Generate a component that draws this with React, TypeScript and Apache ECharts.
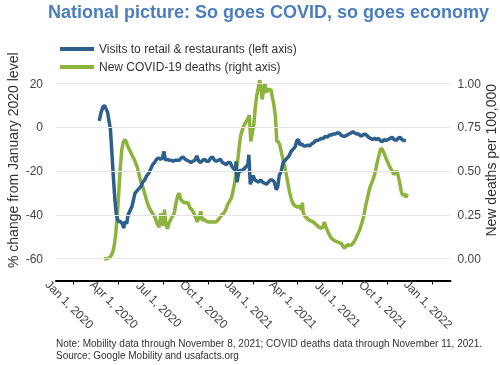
import React, { useEffect, useRef } from 'react';
import * as echarts from 'echarts';

const TITLE = 'National picture: So goes COVID, so goes economy';
const VISITS_NAME = 'Visits to retail & restaurants (left axis)';
const DEATHS_NAME = 'New COVID-19 deaths (right axis)';
const LEFT_AXIS_NAME = '% change from January 2020 level';
const RIGHT_AXIS_NAME = 'New deaths per 100,000';
const NOTE = 'Note: Mobility data through November 8, 2021; COVID deaths data through November 11, 2021.\nSource: Google Mobility and usafacts.org';
const MONTHS = ['Jan', 'Feb', 'Mar', 'Apr', 'May', 'Jun', 'Jul', 'Aug', 'Sep', 'Oct', 'Nov', 'Dec'];

// Visits to retail & restaurants, % change from January 2020 level (left axis)
const visitsData: [string, number][] = [
  ['2020-02-22', 3], ['2020-02-26', 7], ['2020-03-01', 9.5], ['2020-03-04', 10], ['2020-03-07', 8.5],
  ['2020-03-10', 7], ['2020-03-13', 3], ['2020-03-16', -1], ['2020-03-19', -12], ['2020-03-22', -23],
  ['2020-03-25', -33], ['2020-03-28', -40], ['2020-04-01', -43], ['2020-04-05', -43], ['2020-04-09', -44],
  ['2020-04-12', -46], ['2020-04-15', -43], ['2020-04-18', -44], ['2020-04-21', -40], ['2020-04-25', -38],
  ['2020-04-29', -36], ['2020-05-02', -33], ['2020-05-05', -30], ['2020-05-09', -29], ['2020-05-13', -28],
  ['2020-05-17', -27], ['2020-05-21', -25], ['2020-05-25', -24], ['2020-05-29', -22], ['2020-06-02', -21],
  ['2020-06-06', -19], ['2020-06-10', -17], ['2020-06-14', -16], ['2020-06-18', -14.5], ['2020-06-22', -14],
  ['2020-06-26', -14.5], ['2020-06-30', -14], ['2020-07-03', -11], ['2020-07-06', -15], ['2020-07-10', -14.5],
  ['2020-07-14', -15], ['2020-07-18', -15], ['2020-07-22', -15.5], ['2020-07-26', -15], ['2020-07-30', -15],
  ['2020-08-03', -15], ['2020-08-07', -14], ['2020-08-11', -13.5], ['2020-08-15', -14.5], ['2020-08-19', -15],
  ['2020-08-23', -15.5], ['2020-08-27', -16], ['2020-08-31', -15.5], ['2020-09-04', -15], ['2020-09-08', -13],
  ['2020-09-12', -15.5], ['2020-09-16', -16], ['2020-09-20', -15], ['2020-09-24', -14.5], ['2020-09-28', -15.5],
  ['2020-10-02', -15.5], ['2020-10-06', -14], ['2020-10-10', -13.5], ['2020-10-14', -15], ['2020-10-18', -15.5],
  ['2020-10-22', -15], ['2020-10-26', -14.5], ['2020-10-30', -16], ['2020-11-03', -16.5], ['2020-11-07', -17],
  ['2020-11-11', -16], ['2020-11-15', -16], ['2020-11-19', -18], ['2020-11-23', -19], ['2020-11-26', -20],
  ['2020-11-27', -15.5], ['2020-11-29', -25], ['2020-12-02', -21], ['2020-12-05', -19.5], ['2020-12-09', -20],
  ['2020-12-13', -19], ['2020-12-17', -18], ['2020-12-21', -17], ['2020-12-23', -12.5], ['2020-12-26', -26],
  ['2020-12-29', -24], ['2021-01-01', -22], ['2021-01-04', -24], ['2021-01-08', -24.5], ['2021-01-12', -25],
  ['2021-01-16', -24], ['2021-01-20', -25], ['2021-01-24', -25.5], ['2021-01-28', -26], ['2021-02-01', -25],
  ['2021-02-05', -24], ['2021-02-09', -24], ['2021-02-13', -25], ['2021-02-17', -28.5], ['2021-02-20', -27],
  ['2021-02-23', -22], ['2021-02-27', -20], ['2021-03-03', -16], ['2021-03-07', -15], ['2021-03-11', -14],
  ['2021-03-15', -13], ['2021-03-19', -11], ['2021-03-23', -10], ['2021-03-27', -9], ['2021-03-31', -6],
  ['2021-04-03', -5.5], ['2021-04-06', -8], ['2021-04-10', -7.5], ['2021-04-14', -8.5], ['2021-04-18', -8.5],
  ['2021-04-22', -8], ['2021-04-26', -8.5], ['2021-04-30', -7.5], ['2021-05-04', -7], ['2021-05-08', -6],
  ['2021-05-12', -6], ['2021-05-16', -5.5], ['2021-05-20', -5], ['2021-05-24', -5], ['2021-05-28', -4],
  ['2021-06-01', -4.5], ['2021-06-05', -3.5], ['2021-06-09', -3.5], ['2021-06-13', -3], ['2021-06-17', -3],
  ['2021-06-21', -2.5], ['2021-06-25', -2.5], ['2021-06-29', -3.5], ['2021-07-03', -4], ['2021-07-07', -4],
  ['2021-07-11', -3.5], ['2021-07-15', -3], ['2021-07-19', -2.5], ['2021-07-23', -2], ['2021-07-27', -2.5],
  ['2021-07-31', -3], ['2021-08-04', -3], ['2021-08-08', -4], ['2021-08-12', -3.5], ['2021-08-16', -3],
  ['2021-08-20', -3.5], ['2021-08-24', -4.5], ['2021-08-28', -5], ['2021-09-01', -5.5], ['2021-09-05', -5],
  ['2021-09-09', -5.5], ['2021-09-13', -5], ['2021-09-17', -6], ['2021-09-21', -6.5], ['2021-09-25', -5.5],
  ['2021-09-29', -6], ['2021-10-03', -5.5], ['2021-10-07', -5], ['2021-10-11', -4.5], ['2021-10-15', -5.5],
  ['2021-10-19', -6], ['2021-10-23', -5], ['2021-10-27', -4.5], ['2021-10-31', -5.5], ['2021-11-04', -6],
  ['2021-11-08', -6],
];

// New COVID-19 deaths per 100,000 (right axis)
const deathsData: [string, number][] = [
  ['2020-03-03', 0], ['2020-03-10', 0], ['2020-03-14', 0.005], ['2020-03-18', 0.02], ['2020-03-21', 0.04],
  ['2020-03-24', 0.08], ['2020-03-27', 0.15], ['2020-03-30', 0.25], ['2020-04-02', 0.38], ['2020-04-05', 0.52],
  ['2020-04-08', 0.62], ['2020-04-11', 0.665], ['2020-04-14', 0.68], ['2020-04-17', 0.67], ['2020-04-20', 0.645],
  ['2020-04-23', 0.625], ['2020-04-26', 0.61], ['2020-04-29', 0.59], ['2020-05-02', 0.575], ['2020-05-06', 0.55],
  ['2020-05-10', 0.52], ['2020-05-14', 0.47], ['2020-05-18', 0.43], ['2020-05-22', 0.4], ['2020-05-26', 0.36],
  ['2020-05-30', 0.32], ['2020-06-03', 0.29], ['2020-06-07', 0.27], ['2020-06-11', 0.255], ['2020-06-15', 0.235],
  ['2020-06-19', 0.2], ['2020-06-23', 0.18], ['2020-06-27', 0.26], ['2020-06-29', 0.2], ['2020-07-02', 0.19],
  ['2020-07-04', 0.28], ['2020-07-07', 0.2], ['2020-07-10', 0.17], ['2020-07-13', 0.2], ['2020-07-16', 0.22],
  ['2020-07-20', 0.24], ['2020-07-24', 0.26], ['2020-07-27', 0.31], ['2020-07-31', 0.36], ['2020-08-03', 0.375],
  ['2020-08-06', 0.34], ['2020-08-09', 0.33], ['2020-08-13', 0.32], ['2020-08-17', 0.32], ['2020-08-21', 0.32],
  ['2020-08-25', 0.29], ['2020-08-29', 0.28], ['2020-09-02', 0.26], ['2020-09-06', 0.23], ['2020-09-09', 0.21],
  ['2020-09-13', 0.24], ['2020-09-16', 0.27], ['2020-09-19', 0.22], ['2020-09-23', 0.225], ['2020-09-27', 0.215],
  ['2020-10-01', 0.21], ['2020-10-05', 0.21], ['2020-10-09', 0.21], ['2020-10-13', 0.21], ['2020-10-17', 0.21],
  ['2020-10-21', 0.22], ['2020-10-25', 0.235], ['2020-10-29', 0.25], ['2020-11-02', 0.26], ['2020-11-06', 0.28],
  ['2020-11-10', 0.31], ['2020-11-14', 0.33], ['2020-11-18', 0.35], ['2020-11-21', 0.39], ['2020-11-24', 0.43],
  ['2020-11-27', 0.5], ['2020-11-30', 0.55], ['2020-12-03', 0.63], ['2020-12-06', 0.7], ['2020-12-09', 0.73],
  ['2020-12-13', 0.76], ['2020-12-17', 0.78], ['2020-12-21', 0.8], ['2020-12-24', 0.82], ['2020-12-27', 0.67],
  ['2020-12-30', 0.72], ['2021-01-02', 0.76], ['2021-01-05', 0.86], ['2021-01-08', 0.93], ['2021-01-11', 0.97],
  ['2021-01-14', 1.02], ['2021-01-17', 0.98], ['2021-01-19', 0.91], ['2021-01-22', 0.96], ['2021-01-25', 1.0],
  ['2021-01-28', 0.95], ['2021-01-31', 0.97], ['2021-02-03', 0.96], ['2021-02-06', 0.97], ['2021-02-09', 0.92],
  ['2021-02-12', 0.88], ['2021-02-15', 0.82], ['2021-02-18', 0.67], ['2021-02-21', 0.67], ['2021-02-24', 0.65],
  ['2021-02-28', 0.6], ['2021-03-04', 0.55], ['2021-03-08', 0.5], ['2021-03-12', 0.44], ['2021-03-16', 0.38],
  ['2021-03-20', 0.335], ['2021-03-24', 0.31], ['2021-03-28', 0.3], ['2021-04-01', 0.295], ['2021-04-05', 0.3],
  ['2021-04-09', 0.28], ['2021-04-11', 0.32], ['2021-04-13', 0.26], ['2021-04-17', 0.24], ['2021-04-21', 0.23],
  ['2021-04-25', 0.22], ['2021-04-29', 0.215], ['2021-05-03', 0.21], ['2021-05-07', 0.2], ['2021-05-11', 0.19],
  ['2021-05-15', 0.18], ['2021-05-19', 0.175], ['2021-05-23', 0.18], ['2021-05-26', 0.21], ['2021-05-29', 0.18],
  ['2021-06-02', 0.155], ['2021-06-06', 0.13], ['2021-06-10', 0.115], ['2021-06-14', 0.105], ['2021-06-18', 0.1],
  ['2021-06-22', 0.095], ['2021-06-26', 0.09], ['2021-06-30', 0.085], ['2021-07-03', 0.07], ['2021-07-06', 0.06],
  ['2021-07-09', 0.07], ['2021-07-13', 0.08], ['2021-07-17', 0.075], ['2021-07-21', 0.08], ['2021-07-25', 0.095],
  ['2021-07-29', 0.115], ['2021-08-02', 0.14], ['2021-08-06', 0.165], ['2021-08-10', 0.2], ['2021-08-14', 0.24],
  ['2021-08-18', 0.3], ['2021-08-22', 0.35], ['2021-08-26', 0.4], ['2021-08-30', 0.43], ['2021-09-03', 0.46],
  ['2021-09-07', 0.5], ['2021-09-11', 0.555], ['2021-09-15', 0.6], ['2021-09-18', 0.63], ['2021-09-21', 0.625],
  ['2021-09-25', 0.6], ['2021-09-29', 0.57], ['2021-10-03', 0.545], ['2021-10-07', 0.52], ['2021-10-11', 0.5],
  ['2021-10-15', 0.48], ['2021-10-19', 0.5], ['2021-10-22', 0.49], ['2021-10-26', 0.44], ['2021-10-30', 0.38],
  ['2021-11-02', 0.36], ['2021-11-05', 0.37], ['2021-11-08', 0.35], ['2021-11-11', 0.37],
];

const X_MIN = '2019-11-26';
const X_MAX = '2022-02-07';
const LEFT_LABELS = [-60, -40, -20, 0, 20];
const RIGHT_LABELS = [0, 0.25, 0.5, 0.75, 1.0];

const FONT = '"Liberation Sans", Arial, Helvetica, sans-serif';
const BLUE = '#2c5e8e';
const GREEN = '#8cb43c';
const DAY = 86400000;

export default function App() {
  const ref = useRef<HTMLDivElement>(null);

  useEffect(() => {
    if (!ref.current) return;
    const chart = echarts.init(ref.current, null, { renderer: 'svg' });
    const toTime = (s: string) => {
      const [y, m, d] = s.split('-').map(Number);
      return new Date(y, m - 1, d).getTime();
    };
    chart.setOption({
      animation: false,
      textStyle: { fontFamily: FONT },
      title: {
        text: TITLE,
        left: 48,
        top: 3,
        padding: 0,
        textStyle: { fontSize: 18, fontWeight: 'bold', color: '#4a7ebf', fontFamily: FONT },
      },
      legend: {
        data: [VISITS_NAME, DEATHS_NAME],
        orient: 'vertical',
        left: 60,
        top: 43,
        padding: 0,
        itemWidth: 34,
        itemHeight: 4,
        itemGap: 6,
        icon: 'rect',
        textStyle: { fontSize: 12, color: '#333', fontFamily: FONT },
      },
      grid: { left: 56, right: 49.5, top: 40, bottom: 84.5, outerBoundsMode: 'none', containLabel: false },
      xAxis: {
        type: 'time',
        min: toTime(X_MIN),
        max: toTime(X_MAX),
        splitNumber: 8,
        minInterval: 91 * DAY,
        axisLine: { show: true, onZero: false, lineStyle: { color: '#000', width: 2 } },
        axisTick: { show: true, length: 4, lineStyle: { color: '#000', width: 1 } },
        splitLine: { show: false },
        axisLabel: {
          rotate: -45,
          align: 'center',
          verticalAlign: 'middle',
          margin: 24,
          padding: [6, 6, 0, 0],
          fontSize: 12,
          color: '#444',
          hideOverlap: false,
          showMinLabel: false,
          showMaxLabel: false,
          formatter: (value: number) => {
            const d = new Date(value);
            return `${MONTHS[d.getMonth()]} ${d.getDate()}, ${d.getFullYear()}`;
          },
        },
      },
      yAxis: [
        {
          type: 'value',
          min: -70,
          max: 40,
          interval: 10,
          name: LEFT_AXIS_NAME,
          nameLocation: 'middle',
          nameGap: 36,
          nameMoveOverlap: false,
          nameTextStyle: { fontSize: 14, color: '#333', fontFamily: FONT },
          axisLine: { show: false },
          axisTick: { show: false },
          axisLabel: {
            margin: 13,
            fontSize: 12,
            color: '#444',
            formatter: (v: number) => (LEFT_LABELS.includes(v) ? String(v) : ''),
          },
          splitLine: { show: false },
        },
        {
          type: 'value',
          min: -0.125,
          max: 1.25,
          interval: 0.125,
          position: 'right',
          name: RIGHT_AXIS_NAME,
          nameLocation: 'middle',
          nameGap: 33,
          nameMoveOverlap: false,
          nameTextStyle: { fontSize: 14, color: '#333', fontFamily: FONT },
          axisLine: { show: false },
          axisTick: { show: false },
          axisLabel: {
            margin: 7,
            fontSize: 12,
            color: '#444',
            formatter: (v: number) =>
              RIGHT_LABELS.some((r) => Math.abs(r - v) < 1e-9) ? v.toFixed(2) : '',
          },
          splitLine: { show: false },
        },
      ],
      series: [
        {
          name: 'grid',
          type: 'line',
          yAxisIndex: 0,
          data: [],
          z: 1,
          silent: true,
          markLine: {
            silent: true,
            symbol: ['none', 'none'],
            label: { show: false },
            lineStyle: { color: '#e6e6e6', width: 1, type: 'solid' },
            emphasis: { disabled: true },
            data: LEFT_LABELS.map((v) => ({ yAxis: v })),
          },
        },
        {
          name: DEATHS_NAME,
          type: 'line',
          yAxisIndex: 1,
          showSymbol: false,
          symbol: 'none',
          z: 3,
          lineStyle: { color: GREEN, width: 3.5 },
          itemStyle: { color: GREEN },
          data: deathsData.map(([d, v]) => [toTime(d), v]),
        },
        {
          name: VISITS_NAME,
          type: 'line',
          yAxisIndex: 0,
          showSymbol: false,
          symbol: 'none',
          z: 4,
          lineStyle: { color: BLUE, width: 3.5 },
          itemStyle: { color: BLUE },
          data: visitsData.map(([d, v]) => [toTime(d), v]),
        },
      ],
      graphic: [
        {
          type: 'text',
          left: 56,
          top: 337,
          style: {
            text: NOTE,
            fontSize: 10,
            lineHeight: 12,
            fill: '#333',
            fontFamily: FONT,
          },
        },
      ],
    });
    return () => chart.dispose();
  }, []);

  return <div ref={ref} style={{ position: 'fixed', left: 0, top: 0, width: 500, height: 365 }} />;
}
